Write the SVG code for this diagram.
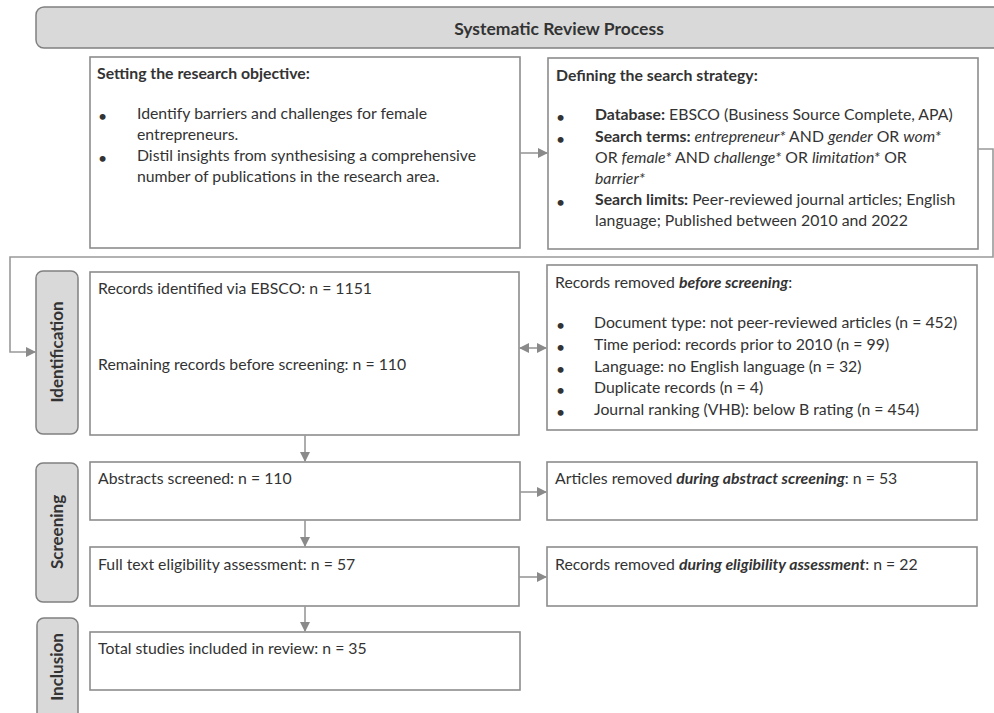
<svg xmlns="http://www.w3.org/2000/svg" width="994" height="713" viewBox="0 0 994 713">
<defs>
<marker id="ah" viewBox="0 0 10 10" refX="9" refY="5" markerWidth="10" markerHeight="10" markerUnits="userSpaceOnUse" orient="auto-start-reverse">
<path d="M0,0 L10,5 L0,10 Z" fill="#8a8a8a"/>
</marker>
</defs>
<style>
.box{fill:#fff;stroke:#8c8c8c;stroke-width:1.6}
.lab{fill:#d9d9d9;stroke:#808080;stroke-width:1.5}
.t{font-family:Lato,"Liberation Sans",sans-serif;font-size:15.8px;fill:#333}
.b{font-weight:bold}
.i{font-style:italic}
.bi{font-weight:bold;font-style:italic}
.vl{font-family:Lato,"Liberation Sans",sans-serif;font-size:17px;font-weight:bold;fill:#333;text-anchor:middle}
.c{fill:none;stroke:#999;stroke-width:1.6}
</style>
<rect width="994" height="713" fill="#fff"/>

<g id="header">
<rect x="36" y="7" width="970" height="41" rx="8" class="lab"/>
<text x="559" y="35" class="t b" text-anchor="middle" style="font-size:17.5px">Systematic Review Process</text>
</g>

<g id="objective">
<rect x="90" y="57" width="430" height="191" class="box"/>
<text x="97" y="79" class="t b">Setting the research objective:</text>
<text x="98" y="122" class="t">•</text>
<text x="137" y="119" class="t">Identify barriers and challenges for female</text>
<text x="137" y="140" class="t">entrepreneurs.</text>
<text x="98" y="164" class="t">•</text>
<text x="137" y="161" class="t">Distil insights from synthesising a comprehensive</text>
<text x="137" y="182" class="t">number of publications in the research area.</text>
</g>

<g id="strategy">
<rect x="548" y="58" width="430" height="191" class="box"/>
<text x="556" y="81" class="t b">Defining the search strategy:</text>
<text x="556" y="123" class="t">•</text>
<text x="595" y="120" class="t"><tspan class="b">Database:</tspan> EBSCO (Business Source Complete, APA)</text>
<text x="556" y="145" class="t">•</text>
<text x="595" y="142" class="t"><tspan class="b">Search terms:</tspan> <tspan class="i">entrepreneur*</tspan> AND <tspan class="i">gender</tspan> OR <tspan class="i">wom*</tspan></text>
<text x="595" y="163" class="t">OR <tspan class="i">female*</tspan> AND <tspan class="i">challenge*</tspan> OR <tspan class="i">limitation*</tspan> OR</text>
<text x="595" y="184" class="t i">barrier*</text>
<text x="556" y="208" class="t">•</text>
<text x="595" y="205" class="t"><tspan class="b">Search limits:</tspan> Peer-reviewed journal articles; English</text>
<text x="595" y="226" class="t">language; Published between 2010 and 2022</text>
</g>

<g id="lab-identification">
<rect x="36" y="271" width="42" height="163" rx="7" class="lab"/>
<text class="vl" transform="translate(63 352) rotate(-90)">Identification</text>
</g>

<g id="identified">
<rect x="90" y="272" width="429" height="163" class="box"/>
<text x="98" y="294" class="t">Records identified via EBSCO: n = 1151</text>
<text x="98" y="370" class="t">Remaining records before screening: n = 110</text>
</g>

<g id="removed-before">
<rect x="547" y="265" width="430" height="165" class="box"/>
<text x="555" y="288" class="t">Records removed <tspan class="bi">before screening</tspan>:</text>
<text x="556" y="331" class="t">•</text>
<text x="594" y="328" class="t">Document type: not peer-reviewed articles (n = 452)</text>
<text x="556" y="353" class="t">•</text>
<text x="594" y="350" class="t">Time period: records prior to 2010 (n = 99)</text>
<text x="556" y="375" class="t">•</text>
<text x="594" y="372" class="t">Language: no English language (n = 32)</text>
<text x="556" y="396" class="t">•</text>
<text x="594" y="393" class="t">Duplicate records (n = 4)</text>
<text x="556" y="418" class="t">•</text>
<text x="594" y="415" class="t">Journal ranking (VHB): below B rating (n = 454)</text>
</g>

<g id="lab-screening">
<rect x="36" y="463" width="42" height="139" rx="7" class="lab"/>
<text class="vl" transform="translate(63 532) rotate(-90)">Screening</text>
</g>

<g id="abstracts">
<rect x="90" y="462" width="430" height="58" class="box"/>
<text x="98" y="484" class="t">Abstracts screened: n = 110</text>
</g>

<g id="removed-abstract">
<rect x="547" y="462" width="430" height="58" class="box"/>
<text x="555" y="484" class="t">Articles removed <tspan class="bi">during abstract screening</tspan>: n = 53</text>
</g>

<g id="fulltext">
<rect x="90" y="547" width="429" height="59" class="box"/>
<text x="98" y="570" class="t">Full text eligibility assessment: n = 57</text>
</g>

<g id="removed-eligibility">
<rect x="547" y="547" width="430" height="59" class="box"/>
<text x="555" y="570" class="t">Records removed <tspan class="bi">during eligibility assessment</tspan>: n = 22</text>
</g>

<g id="lab-inclusion">
<rect x="37" y="618" width="41" height="120" rx="7" class="lab"/>
<text class="vl" transform="translate(63 667) rotate(-90)">Inclusion</text>
</g>

<g id="included">
<rect x="90" y="632" width="430" height="58" class="box"/>
<text x="98" y="654" class="t">Total studies included in review: n = 35</text>
</g>

<g id="connectors">
<line x1="520" y1="153" x2="547" y2="153" class="c" marker-end="url(#ah)"/>
<polyline points="978,149 993,149 993,257 10,257 10,352 35,352" class="c" marker-end="url(#ah)"/>
<line x1="520" y1="348" x2="546" y2="348" class="c" marker-start="url(#ah)" marker-end="url(#ah)"/>
<line x1="305" y1="435" x2="305" y2="461" class="c" marker-end="url(#ah)"/>
<line x1="520" y1="492" x2="546" y2="492" class="c" marker-end="url(#ah)"/>
<line x1="305" y1="520" x2="305" y2="546" class="c" marker-end="url(#ah)"/>
<line x1="519" y1="577" x2="546" y2="577" class="c" marker-end="url(#ah)"/>
<line x1="305" y1="606" x2="305" y2="631" class="c" marker-end="url(#ah)"/>
</g>
</svg>
